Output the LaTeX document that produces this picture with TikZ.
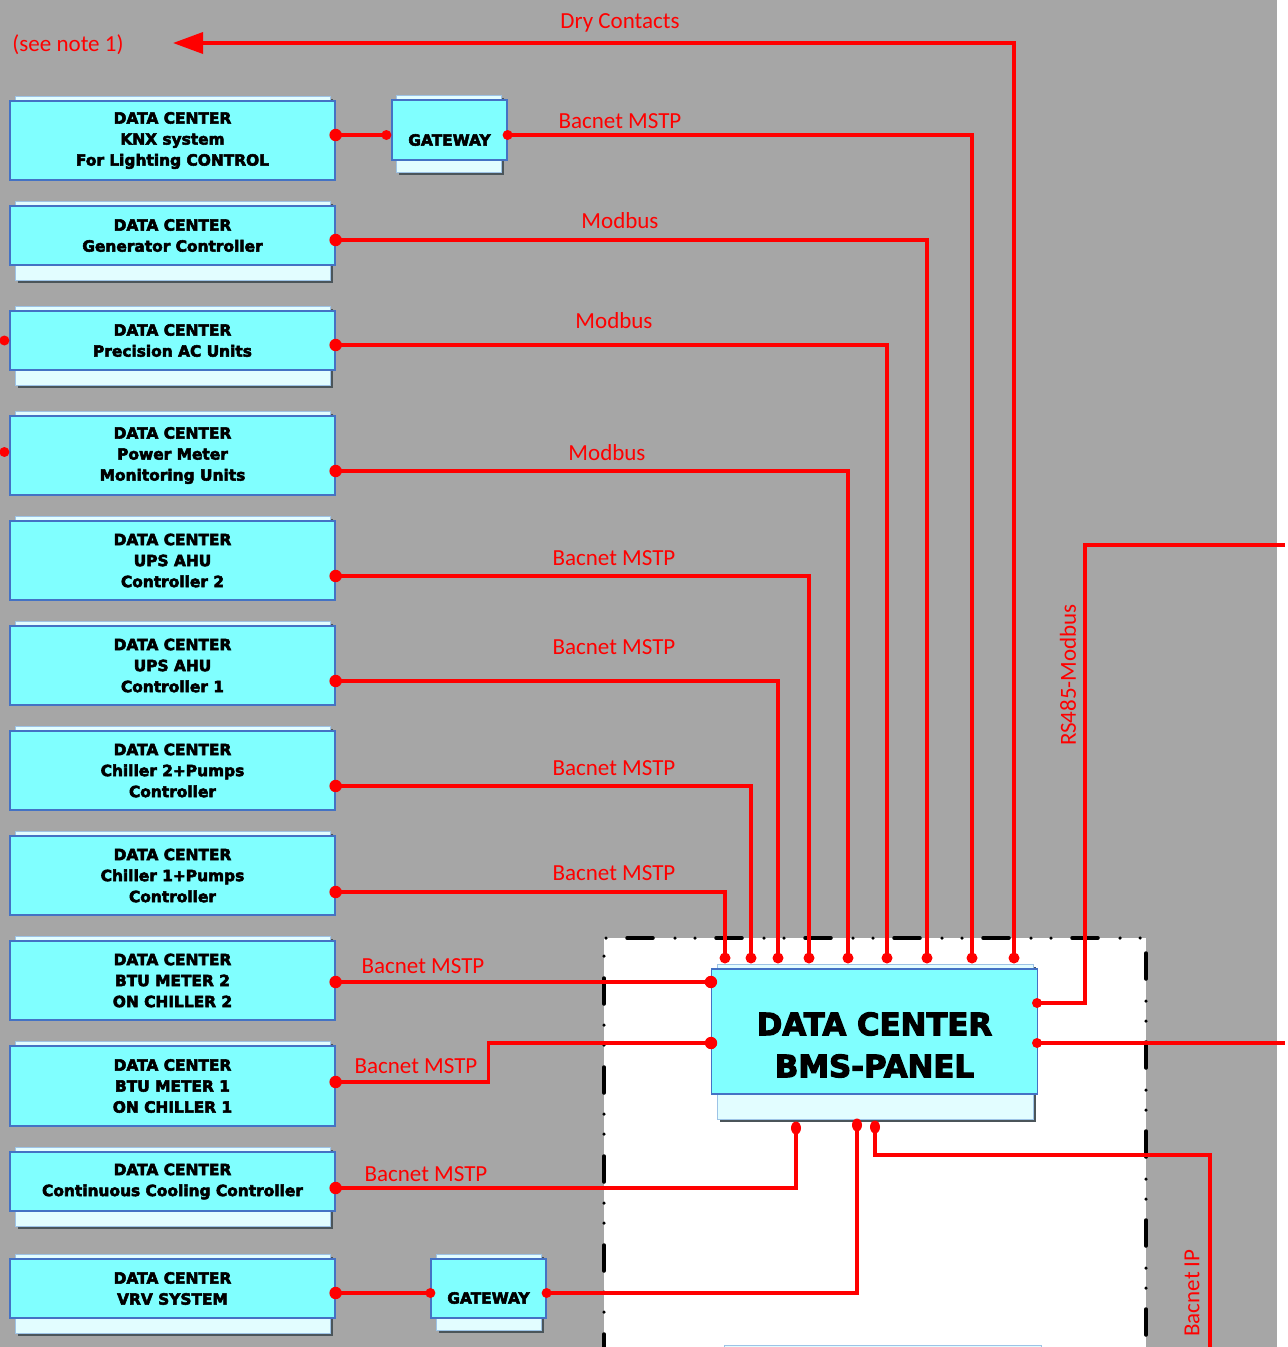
\documentclass[tikz,border=0pt]{standalone}
\usepackage{fontspec}
\setmainfont{Carlito}
\newfontfamily\boxfont[FakeBold=3.5]{DejaVu Sans}
\usetikzlibrary{arrows.meta,calc}
\definecolor{bg}{HTML}{A6A6A6}
\definecolor{boxfill}{HTML}{80FFFF}
\definecolor{boxline}{HTML}{4472C4}
\definecolor{backfill}{HTML}{E2FDFF}
\definecolor{backline}{HTML}{9DC3E6}
\definecolor{shadowc}{HTML}{4B555A}
\tikzset{
  mainbox/.style={draw=boxline, line width=1.2pt, fill=boxfill, minimum width=325pt, inner sep=0pt, align=center,
    font=\boxfont\bfseries\fontsize{15.4}{21}\selectfont},
  gwbox/.style={mainbox, minimum width=115pt, minimum height=60pt},
  boxtxt/.style={font=\boxfont\bfseries\fontsize{15.4}{21}\selectfont, inner sep=0pt, align=center},
  bigtxt/.style={font=\boxfont\bfseries\fontsize{30.8}{42}\selectfont, inner sep=0pt, align=center},
  wire/.style={draw=red, line width=3.5pt},
  lbl/.style={text=red, font=\fontsize{23}{26}\selectfont, inner sep=0pt, anchor=base},
  rlbl/.style={text=red, font=\fontsize{23}{26}\selectfont, inner sep=0pt, rotate=90},
  border/.style={draw=black, line width=3.5pt, line cap=round, dash pattern=on 26pt off 22pt on 0pt off 20pt on 0pt off 21pt},
}
\newcommand\backpanel[4]{%
  \fill[shadowc] (#1+3,#2+3) rectangle (#3+3,#4+3);
  \filldraw[fill=backfill, draw=backline, line width=0.8pt] (#1,#2) rectangle (#3,#4);}
\begin{document}
\begin{tikzpicture}[x=1pt,y=-1pt]
\useasboundingbox (0,0) rectangle (1288,1347);
\fill[white] (0,0) rectangle (1288,1347);
\fill[bg] (0,0) rectangle (1277,1347);
% white panel area with dash-dot-dot border
\fill[white] (604,938) rectangle (1146,1350);
\draw[border] (604,1360) -- (604,938) -- (1146,938) -- (1146,1360);
% partially visible box at bottom
\filldraw[fill=backfill, draw=backline, line width=1pt] (724,1345) rectangle (1041,1355);

% back panels
\foreach \t in {96,201,306,411,516,621,726,831,936,1041,1147,1254} {\backpanel{15}{\t}{330}{\t+79}}
\backpanel{396}{95}{501}{172}
\backpanel{436}{1254}{541}{1330}
\backpanel{717}{964}{1033}{1119}

% main boxes
\node[mainbox, minimum height=79pt] (b1) at (172.5,140.5) {DATA CENTER\\KNX system\\For Lighting CONTROL};
\node[mainbox, minimum height=59pt] (b2) at (172.5,235.5) {DATA CENTER\\Generator Controller};
\node[mainbox, minimum height=59pt] (b3) at (172.5,340.5) {DATA CENTER\\Precision AC Units};
\node[mainbox, minimum height=79pt] (b4) at (172.5,455.5) {DATA CENTER\\Power Meter\\Monitoring Units};
\node[mainbox, minimum height=79pt] (b5) at (172.5,560.5) {DATA CENTER\\UPS AHU\\Controller 2};
\node[mainbox, minimum height=79pt] (b6) at (172.5,665.5) {DATA CENTER\\UPS AHU\\Controller 1};
\node[mainbox, minimum height=79pt] (b7) at (172.5,770.5) {DATA CENTER\\Chiller 2+Pumps\\Controller};
\node[mainbox, minimum height=79pt] (b8) at (172.5,875.5) {DATA CENTER\\Chiller 1+Pumps\\Controller};
\node[mainbox, minimum height=79pt] (b9) at (172.5,980.5) {DATA CENTER\\BTU METER 2\\ON CHILLER 2};
\node[mainbox, minimum height=80pt] (b10) at (172.5,1086) {DATA CENTER\\BTU METER 1\\ON CHILLER 1};
\node[mainbox, minimum height=59pt] (b11) at (172.5,1181.5) {DATA CENTER\\Continuous Cooling Controller};
\node[mainbox, minimum height=59pt] (b12) at (172.5,1288.5) {DATA CENTER\\VRV SYSTEM};

\node[gwbox] (g1) at (449.5,130) {};
\node[boxtxt] (g1t) at (449.5,140) {GATEWAY};
\node[gwbox, minimum height=59pt] (g2) at (488.5,1288.5) {};
\node[boxtxt] (g2t) at (488.5,1298) {GATEWAY};

\node[mainbox, minimum width=326pt, minimum height=125pt] (bms) at (874.5,1031.5) {};
\node[bigtxt] (bmst) at (874.5,1045) {DATA CENTER\\BMS-PANEL};

% connection points
\coordinate (b1r) at ([yshift=5.5pt]b1.east);
\coordinate (b2r) at ([yshift=-4.5pt]b2.east);
\coordinate (b3r) at ([yshift=-4.5pt]b3.east);
\coordinate (b4r) at ([yshift=-15.5pt]b4.east);
\coordinate (b5r) at ([yshift=-15.5pt]b5.east);
\coordinate (b6r) at ([yshift=-15.5pt]b6.east);
\coordinate (b7r) at ([yshift=-15.5pt]b7.east);
\coordinate (b8r) at ([yshift=-16.5pt]b8.east);
\coordinate (b9r) at ([yshift=-1.5pt]b9.east);
\coordinate (b10r) at ([yshift=4pt]b10.east);
\coordinate (b11r) at ([yshift=-6.5pt]b11.east);
\coordinate (b12r) at ([yshift=-4.5pt]b12.east);
\coordinate (b3l) at ([xshift=-5pt]b3.west);
\coordinate (b4l) at ([xshift=-5pt,yshift=3.5pt]b4.west);
\coordinate (g1l) at ([xshift=-5pt,yshift=-5pt]g1.west);
\coordinate (g1r) at ([yshift=-5pt]g1.east);
\coordinate (g2l) at ([yshift=-4.5pt]g2.west);
\coordinate (g2r) at ([yshift=-4.5pt]g2.east);
\foreach \n/\x in {1/725,2/751,3/778,4/809,5/848,6/887,7/927,8/972,9/1014} {\coordinate (t\n) at (\x,958);}
\coordinate (bl1) at (bms.west |- b9r);
\coordinate (bl2) at (711,1043);
\coordinate (br1) at (1037,1003);
\coordinate (br2) at (1037,1043);
\coordinate (bb1) at (796,1128);
\coordinate (bb2) at (857,1125);
\coordinate (bb3) at (875,1127);
\coordinate (notetip) at (173,43);
\coordinate (rsend) at (1285,545);
\coordinate (rend2) at (1285,1043);
\coordinate (ipend) at (1210,1352);

% wires
\draw[wire] (b1r) -- (g1l);
\draw[wire] (g1r) -| (t8);
\draw[wire] (b2r) -| (t7);
\draw[wire] (b3r) -| (t6);
\draw[wire] (b4r) -| (t5);
\draw[wire] (b5r) -| (t4);
\draw[wire] (b6r) -| (t3);
\draw[wire] (b7r) -| (t2);
\draw[wire] (b8r) -| (t1);
\draw[wire] (b9r) -- (bl1);
\draw[wire] (b10r) -- ++(153,0) |- (bl2);
\draw[wire] (b11r) -| (bb1);
\draw[wire] (b12r) -- (g2l);
\draw[wire] (g2r) -| (bb2);
\draw[wire] (bb3) -- ++(0,28) -| (ipend);
\draw[wire] (br1) -- ++(48,0) |- (rsend);
\draw[wire] (br2) -- (rend2);
\draw[wire, -{Triangle[length=30pt,width=21pt]}] (t9) |- (notetip);

% dots
\foreach \p in {b1r,b2r,b3r,b4r,b5r,b6r,b7r,b8r,b9r,b10r,b11r,b12r,bl1,bl2} {\fill[red] (\p) circle (6.2pt);}
\foreach \p in {g1l,g1r,g2l,g2r,b3l,b4l,br1,br2} {\fill[red] (\p) circle (5pt);}
\foreach \p in {t1,t2,t3,t4,t5,t6,t7,t8,t9} {\fill[red] (\p) circle (5.5pt);}
\foreach \p in {bb1,bb2,bb3} {\fill[red] (\p) ellipse (5pt and 6.5pt);}

% labels
\node[lbl] (lnote) at (68,51) {(see note 1)};
\node[lbl] (ldry) at (620,28) {Dry Contacts};
\node[lbl] (lg1) at (620,128) {Bacnet MSTP};
\node[lbl] (lm1) at (620,228) {Modbus};
\node[lbl] (lm2) at (614,328) {Modbus};
\node[lbl] (lm3) at (607,460) {Modbus};
\node[lbl] (lb5) at (614,565) {Bacnet MSTP};
\node[lbl] (lb6) at (614,654) {Bacnet MSTP};
\node[lbl] (lb7) at (614,775) {Bacnet MSTP};
\node[lbl] (lb8) at (614,880) {Bacnet MSTP};
\node[lbl] (lb9) at (423,973) {Bacnet MSTP};
\node[lbl] (lb10) at (416,1073) {Bacnet MSTP};
\node[lbl] (lb11) at (426,1181) {Bacnet MSTP};
\node[rlbl] (lrs) at (1068,675) {RS485-Modbus};
\node[rlbl] (lip) at (1192,1293) {Bacnet IP};
\end{tikzpicture}
\end{document}
